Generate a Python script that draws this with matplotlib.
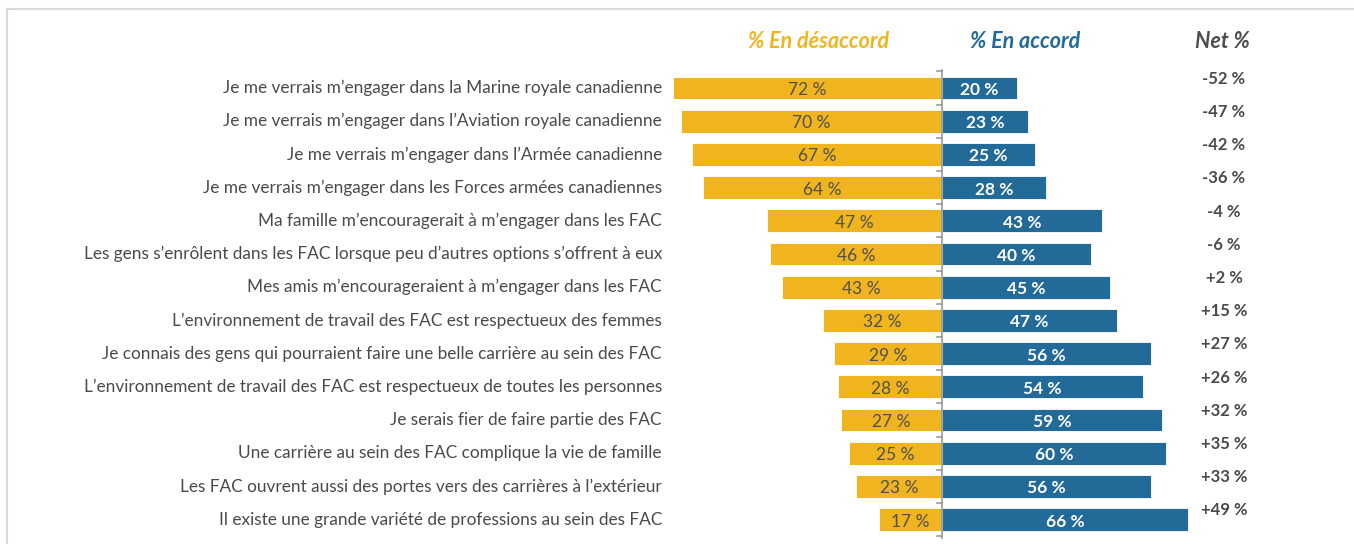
import matplotlib
matplotlib.use("Agg")
import matplotlib.pyplot as plt
from matplotlib.patches import Rectangle

plt.rcParams['font.family'] = ['Lato', 'DejaVu Sans']

categories = [
    "Je me verrais m’engager dans la Marine royale canadienne",
    "Je me verrais m’engager dans l’Aviation royale canadienne",
    "Je me verrais m’engager dans l’Armée canadienne",
    "Je me verrais m’engager dans les Forces armées canadiennes",
    "Ma famille m’encouragerait à m’engager dans les FAC",
    "Les gens s’enrôlent dans les FAC lorsque peu d’autres options s’offrent à eux",
    "Mes amis m’encourageraient à m’engager dans les FAC",
    "L’environnement de travail des FAC est respectueux des femmes",
    "Je connais des gens qui pourraient faire une belle carrière au sein des FAC",
    "L’environnement de travail des FAC est respectueux de toutes les personnes",
    "Je serais fier de faire partie des FAC",
    "Une carrière au sein des FAC complique la vie de famille",
    "Les FAC ouvrent aussi des portes vers des carrières à l’extérieur",
    "Il existe une grande variété de professions au sein des FAC",
]
disagree = [72, 70, 67, 64, 47, 46, 43, 32, 29, 28, 27, 25, 23, 17]
agree = [20, 23, 25, 28, 43, 40, 45, 47, 56, 54, 59, 60, 56, 66]
net = [-52, -47, -42, -36, -4, -6, 2, 15, 27, 26, 32, 35, 33, 49]
headers = ["% En désaccord", "% En accord", "Net %"]

ORANGE = "#F0B41E"
BLUE = "#226A98"
GRAY_TXT = "#4a4a4a"

W, H = 1354, 544
fig = plt.figure(figsize=(W / 100, H / 100), dpi=100)
ax = fig.add_axes([0, 0, 1, 1])

px_per = 3.73
x0 = 942
row0, row_h = 88, 33.2
ax.set_xlim(-x0 / px_per, (W - x0) / px_per)
ax.set_ylim((H - row0) / row_h, -row0 / row_h)
ax.axis("off")

# frame (open at bottom and right, like the clipped reference)
fig.patches.append(Rectangle((7 / W, -0.2), 1.2, 1.2 - 9 / H, transform=fig.transFigure,
                             fill=False, edgecolor="#d9d9d9", linewidth=1.5))

n = len(categories)
ys = list(range(n))
bh = 0.69
ax.barh(ys, [-d for d in disagree], height=bh, color=ORANGE, edgecolor="white", linewidth=0.6)
ax.barh(ys, agree, height=bh, color=BLUE, edgecolor="white", linewidth=0.6)

lbl_x = -(x0 - 662) / px_per
for i in ys:
    ax.text(lbl_x, i, categories[i], ha="right", va="center", fontsize=12.4, color=GRAY_TXT)
    ax.text(-disagree[i] / 2, i + 0.06, f"{disagree[i]} %", ha="center", va="center",
            fontsize=12.5, color="#505050")
    ax.text(agree[i] / 2, i + 0.06, f"{agree[i]} %", ha="center", va="center",
            fontsize=12.5, color="white", fontweight="bold")
    s = f"+{net[i]} %" if net[i] > 0 else f"{net[i]} %"
    ax.text((1224 - x0) / px_per, i - 0.28, s, ha="center", va="center",
            fontsize=12, color=GRAY_TXT, fontweight="bold")

# axis line and ticks
ax.plot([0, 0], [-0.55, n - 0.45], color="#999999", linewidth=1.2)
for k in range(n + 1):
    ax.plot([-5 / px_per, 0], [k - 0.5, k - 0.5], color="#999999", linewidth=1.2)

hy = (42 - row0) / row_h
hcols = [ORANGE, BLUE, "#4d4d4d"]
hxs = [819, 1025, 1222]
for t, c, hx in zip(headers, hcols, hxs):
    ax.text((hx - x0) / px_per, hy, t, ha="center", va="center", fontsize=15.5,
            color=c, fontweight="bold", style="italic")

fig.savefig("out.png", dpi=100)
